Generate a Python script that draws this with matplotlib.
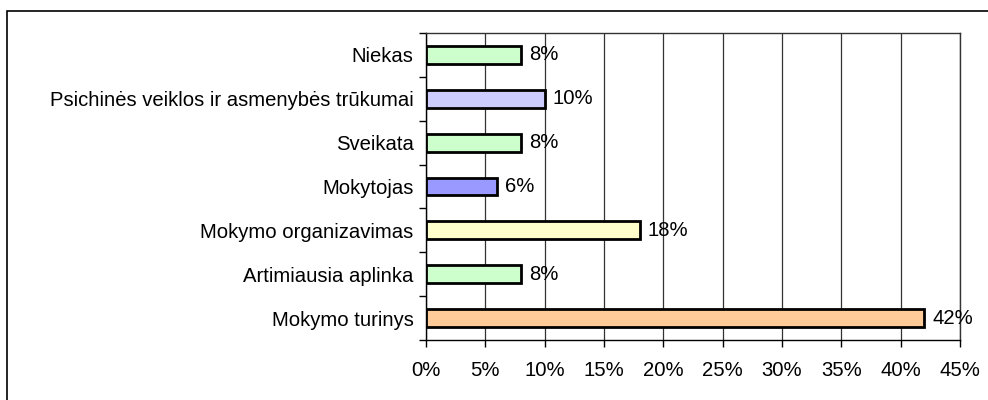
import numpy as np
import matplotlib.pyplot as plt
from matplotlib.patches import Rectangle
from matplotlib.ticker import FixedLocator

plt.rcParams['font.family'] = ['Liberation Sans', 'DejaVu Sans']

categories = ['Mokymo turinys', 'Artimiausia aplinka', 'Mokymo organizavimas',
              'Mokytojas', 'Sveikata', 'Psichinės veiklos ir asmenybės trūkumai', 'Niekas']
values = [42, 8, 18, 6, 8, 10, 8]
colors = ['#FFCC99', '#CCFFCC', '#FFFFCC', '#9999FF', '#CCFFCC', '#CCCCFF', '#CCFFCC']
xticks = np.arange(0, 50, 5)

fs = 14.6

fig = plt.figure(figsize=(9.88, 4.0), dpi=100)
ax = fig.add_axes([426 / 988, 1 - 340 / 400, (960 - 426) / 988, (340 - 33) / 400])

# outer frame of the chart area
fig.patches.append(Rectangle((7 / 988, -0.1), 1.2, 1 - 11 / 400 + 0.1,
                             transform=fig.transFigure, fill=False,
                             edgecolor='black', linewidth=1.2))

y = np.arange(len(categories))
ax.barh(y, values, height=0.41, color=colors, edgecolor='black', linewidth=2, zorder=3)

for yi, v in zip(y, values):
    ax.text(v + 0.65, yi, f'{v}%', va='center', ha='left', fontsize=fs, zorder=4)

ax.set_xlim(0, 45)
ax.set_ylim(-0.5, len(categories) - 0.5)
ax.set_xticks(xticks)
ax.set_xticklabels([f'{t}%' for t in xticks], fontsize=fs)
ax.set_yticks(y)
ax.set_yticklabels(categories, fontsize=fs)
ax.yaxis.set_minor_locator(FixedLocator(np.arange(-0.5, len(categories), 1)))
ax.tick_params(axis='y', which='major', length=0, pad=9)
ax.tick_params(axis='y', which='minor', length=5, width=1, direction='out')
ax.tick_params(axis='x', length=5, width=1, direction='out', pad=10)

ax.xaxis.grid(True, color='#333333', linewidth=0.9, zorder=0)
for s in ['top', 'bottom', 'left', 'right']:
    ax.spines[s].set_linewidth(1)
ax.spines['right'].set_color('#333333')
ax.spines['top'].set_color('#333333')

fig.savefig('out.png', dpi=100)
